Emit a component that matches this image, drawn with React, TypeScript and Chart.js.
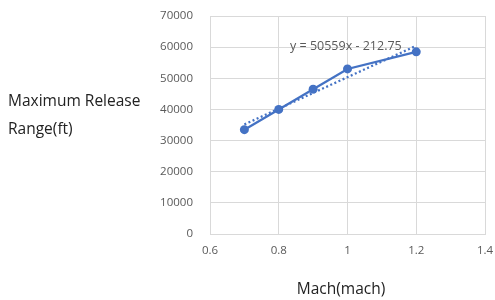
import React, { useEffect, useRef } from "react";
import { Chart, registerables } from "chart.js";

Chart.register(...registerables);

const machValues = [0.7, 0.8, 0.9, 1.0, 1.2];
const rangeValues = [33500, 40000, 46500, 53000, 58500];
const trendX = [0.7, 1.2];
const trendY = [35178, 60458];
const equationLabel = "y = 50559x - 212.75";
const yTitleLines = ["Maximum Release", "Range(ft)"];
const xTitle = "Mach(mach)";

const BLUE = "#4472C4";
const GRID = "#d9d9d9";
const FONT = "'Open Sans', 'Noto Sans', sans-serif";

export default function App() {
  const ref = useRef<HTMLCanvasElement | null>(null);

  useEffect(() => {
    if (!ref.current) return;
    const chart = new Chart(ref.current, {
      type: "scatter",
      data: {
        datasets: [
          {
            data: machValues.map((x, i) => ({ x, y: rangeValues[i] })),
            showLine: true,
            borderColor: BLUE,
            backgroundColor: BLUE,
            borderWidth: 2.25,
            pointRadius: 4.5,
            pointBorderWidth: 0,
            order: 1,
          },
          {
            data: trendX.map((x, i) => ({ x, y: trendY[i] })),
            showLine: true,
            borderColor: BLUE,
            borderWidth: 2.25,
            borderDash: [2, 2.5],
            pointRadius: 0,
            order: 2,
          },
        ],
      },
      options: {
        animation: false,
        responsive: false,
        maintainAspectRatio: false,
        layout: { padding: { top: 16, right: 10, bottom: 0, left: 0 } },
        plugins: { legend: { display: false }, tooltip: { enabled: false } },
        scales: {
          x: {
            type: "linear",
            min: 0.6,
            max: 1.4,
            ticks: {
              stepSize: 0.2,
              color: "#595959",
              font: { family: FONT, size: 11.5 },
              padding: 10,
              callback: (v: any) => String(Math.round(Number(v) * 10) / 10),
            },
            grid: { color: GRID, drawTicks: false },
            border: { color: GRID },
            afterFit: (s: any) => {
              s.height = 66;
              s.paddingLeft = 0;
              s.paddingRight = 0;
            },
          },
          y: {
            min: 0,
            max: 70000,
            ticks: {
              stepSize: 10000,
              color: "#595959",
              font: { family: FONT, size: 11.5 },
              padding: 17,
              callback: (v: any) => String(v),
            },
            grid: { color: GRID, drawTicks: false },
            border: { color: GRID },
            afterFit: (s: any) => {
              s.width = 210;
              s.paddingTop = 0;
              s.paddingBottom = 0;
            },
          },
        },
      },
    });
    return () => chart.destroy();
  }, []);

  return (
    <div style={{ position: "fixed", left: 0, top: 0, width: 495, height: 300, background: "#fff" }}>
      <canvas ref={ref} width={495} height={300} style={{ position: "absolute", left: 0, top: 0 }} />
      <div
        style={{
          position: "absolute",
          left: 8,
          top: 86,
          fontFamily: FONT,
          fontSize: 15.5,
          lineHeight: "28px",
          color: "#222",
        }}
      >
        {yTitleLines.map((l) => (
          <div key={l}>{l}</div>
        ))}
      </div>
      <div
        style={{
          position: "absolute",
          left: 341,
          top: 277,
          transform: "translateX(-50%)",
          fontFamily: FONT,
          fontSize: 15.5,
          color: "#222",
          whiteSpace: "nowrap",
        }}
      >
        {xTitle}
      </div>
      <div
        style={{
          position: "absolute",
          left: 290,
          top: 37,
          fontFamily: FONT,
          fontSize: 12.5,
          color: "#595959",
          whiteSpace: "nowrap",
        }}
      >
        {equationLabel}
      </div>
    </div>
  );
}
